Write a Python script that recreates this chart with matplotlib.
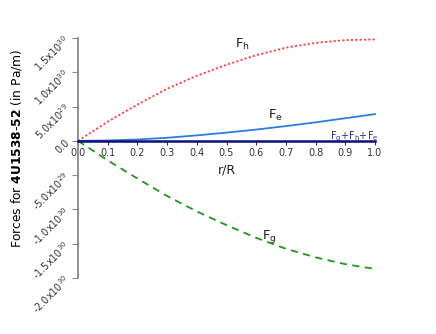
import numpy as np
import matplotlib.pyplot as plt

# radial coordinate r/R and forces (units of 1e30 Pa/m)
r = [0.0, 0.1, 0.2, 0.3, 0.4, 0.5, 0.6, 0.7, 0.8, 0.9, 1.0]
f_h = [0.0, 0.28, 0.53, 0.76, 0.95, 1.11, 1.25, 1.36, 1.43, 1.47, 1.48]
f_e = [0.0, 0.005, 0.02, 0.045, 0.08, 0.12, 0.165, 0.215, 0.27, 0.33, 0.39]
f_g = [0.0, -0.285, -0.55, -0.805, -1.03, -1.23, -1.415, -1.575, -1.70, -1.80, -1.87]
f_sum = [0.0] * 11

yticks = [1.5, 1.0, 0.5, 0.0, -0.5, -1.0, -1.5, -2.0]
ylabels = [r'1.5x10$^{30}$', r'1.0x10$^{30}$', r'5.0x10$^{29}$', '0.0',
           r'-5.0x10$^{29}$', r'-1.0x10$^{30}$', r'-1.5x10$^{30}$', r'-2.0x10$^{30}$']
xticks = [0.0, 0.1, 0.2, 0.3, 0.4, 0.5, 0.6, 0.7, 0.8, 0.9, 1.0]

fig = plt.figure(figsize=(4.36, 3.34), dpi=100)
ax = fig.add_axes([0.179, 0.168, 0.681, 0.718])

ax.plot(r, f_h, color='#ff4040', ls=(0, (1.2, 1.2)), lw=1.3, clip_on=False)
ax.plot(r, f_e, color='#2a7fe0', lw=1.3, clip_on=False)
ax.plot(r, f_g, color='#1a9a1a', ls=(0, (4, 3)), lw=1.3, clip_on=False)
ax.plot(r, f_sum, color='#10107a', lw=1.8, clip_on=False, zorder=5)

ax.set_xlim(0, 1)
ax.set_ylim(-2.0, 1.5)

ax.spines['top'].set_visible(False)
ax.spines['right'].set_visible(False)
ax.spines['bottom'].set_position(('data', 0))
ax.spines['bottom'].set_color('#10107a')
ax.spines['left'].set_color('#888888')
ax.spines['left'].set_linewidth(1.3)

ax.set_yticks(yticks)
ax.set_yticklabels(ylabels, rotation=45, ha='right', va='center', rotation_mode='anchor')
ax.tick_params(axis='y', colors='#888888', labelcolor='#333333', labelsize=7, length=4)
ax.set_xticks(xticks)
ax.set_xticklabels([f'{v:.1f}' for v in xticks])
ax.tick_params(axis='x', colors='#333333', labelsize=7, length=3, pad=2)

ax.set_xlabel('r/R', fontsize=9, color='#222222')
ax.xaxis.set_label_coords(0.5, 0.475)
ax.set_ylabel(r'Forces for $\bf{4U1538}$-$\bf{52}$ (in Pa/m)', fontsize=8.8)
ax.yaxis.set_label_coords(-0.182, 0.54)

ax.text(0.53, 1.36, r'F$_\mathregular{h}$', fontsize=9.5, color='#222222')
ax.text(0.64, 0.32, r'F$_\mathregular{e}$', fontsize=9.5, color='#222222')
ax.text(0.62, -1.43, r'F$_\mathregular{g}$', fontsize=9.5, color='#222222')
ax.text(0.85, 0.03, r'F$_\mathregular{g}$+F$_\mathregular{h}$+F$_\mathregular{e}$',
        fontsize=7, color='#2a2a9a')

fig.savefig('out.png', dpi=100)
